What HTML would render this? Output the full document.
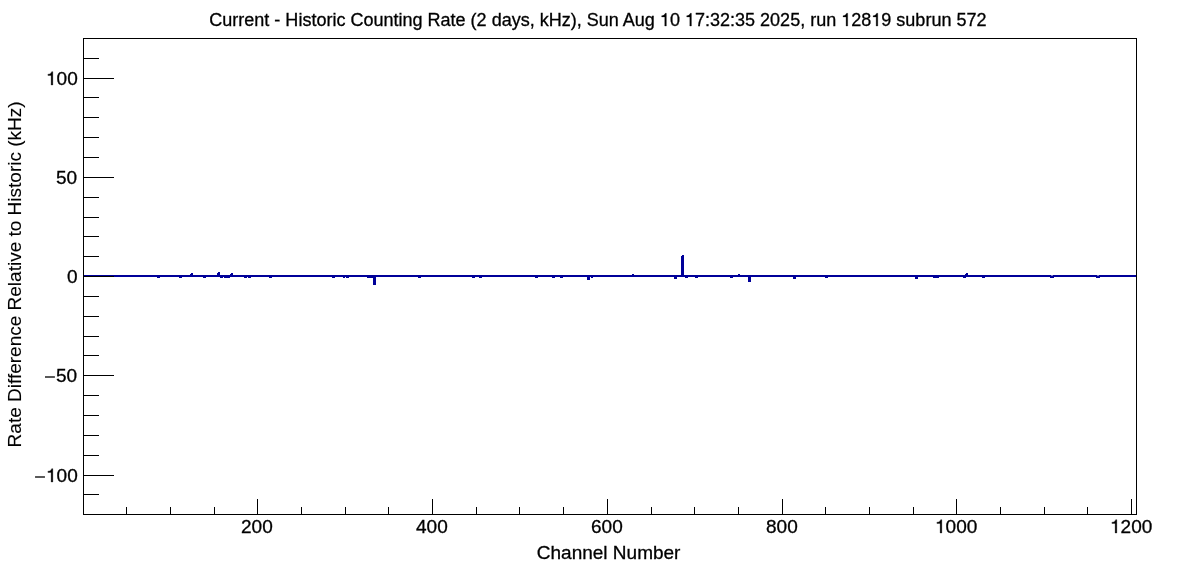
<!DOCTYPE html>
<html><head><meta charset="utf-8"><title>Current - Historic Counting Rate</title>
<style>
html,body{margin:0;padding:0;background:#fff;}
body{width:1196px;height:572px;overflow:hidden;font-family:"Liberation Sans",sans-serif;}
svg{display:block;will-change:transform;transform:translateZ(0);}
text{font-family:"Liberation Sans",sans-serif;fill:#000;stroke:#000;stroke-width:0.3px;}
tspan.h{fill:none;stroke:none;}
</style></head><body>
<svg width="1196" height="572" viewBox="0 0 1196 572">
<rect x="0" y="0" width="1196" height="572" fill="#fff"/>
<g fill="#000099" shape-rendering="crispEdges">
<rect x="83" y="275" width="1054" height="2"/>
<rect x="157.2" y="276" width="3.0" height="2"/>
<rect x="178.8" y="276" width="3.3" height="2"/>
<rect x="203.0" y="276" width="2.9" height="2"/>
<rect x="219.9" y="276" width="3.2" height="2"/>
<rect x="224.1" y="276" width="5.5" height="2"/>
<rect x="244.2" y="276" width="2.5" height="2"/>
<rect x="248.2" y="276" width="2.8" height="2"/>
<rect x="269.0" y="276" width="2.8" height="2"/>
<rect x="331.9" y="276" width="3.0" height="2"/>
<rect x="342.9" y="276" width="2.2" height="2"/>
<rect x="346.1" y="276" width="2.8" height="2"/>
<rect x="367.0" y="276" width="6.0" height="2"/>
<rect x="373.0" y="276" width="3.0" height="9"/>
<rect x="417.9" y="276" width="3.0" height="2"/>
<rect x="472.0" y="276" width="3.0" height="2"/>
<rect x="479.0" y="276" width="3.0" height="2"/>
<rect x="534.8" y="276" width="3.1" height="2"/>
<rect x="552.0" y="276" width="2.8" height="2"/>
<rect x="559.9" y="276" width="3.0" height="2"/>
<rect x="586.9" y="276" width="3.1" height="4"/>
<rect x="591.0" y="276" width="2.0" height="2"/>
<rect x="674.0" y="276" width="3.0" height="3"/>
<rect x="684.9" y="276" width="3.1" height="2"/>
<rect x="694.9" y="276" width="3.2" height="2"/>
<rect x="730.0" y="276" width="3.0" height="2"/>
<rect x="748.0" y="276" width="3.0" height="6"/>
<rect x="792.8" y="276" width="3.2" height="3"/>
<rect x="824.9" y="276" width="3.0" height="2"/>
<rect x="914.8" y="276" width="3.2" height="3"/>
<rect x="933.0" y="276" width="6.0" height="2"/>
<rect x="963.0" y="276" width="3.0" height="2"/>
<rect x="982.0" y="276" width="3.0" height="2"/>
<rect x="1050.0" y="276" width="4.0" height="2"/>
<rect x="1096.0" y="276" width="4.0" height="2"/>
<rect x="190.0" y="274" width="3.0" height="2"/>
<rect x="191.0" y="273" width="2.0" height="1"/>
<rect x="217.1" y="273" width="2.8" height="3"/>
<rect x="218.1" y="272" width="1.8" height="1"/>
<rect x="229.6" y="274" width="3.4" height="2"/>
<rect x="230.6" y="273" width="2.4" height="1"/>
<rect x="631.8" y="274" width="2.3" height="2"/>
<rect x="681.0" y="256" width="3.1" height="20"/>
<rect x="682.0" y="255" width="2.1" height="1"/>
<rect x="738.0" y="274" width="2.2" height="2"/>
<rect x="965.2" y="274" width="3.0" height="2"/>
<rect x="966.2" y="273" width="2.0" height="1"/>
</g>
<rect x="1051.4" y="275" width="1.2" height="1" fill="#fff" opacity="0.85"/>
<rect x="1097.4" y="275" width="1.2" height="1" fill="#fff" opacity="0.85"/>
<g fill="#000" shape-rendering="crispEdges">
<rect x="83" y="38" width="1054" height="1"/>
<rect x="83" y="514" width="1054" height="1"/>
<rect x="83" y="38" width="1" height="477"/>
<rect x="1136" y="38" width="1" height="477"/>
<rect x="83" y="494" width="16" height="1"/>
<rect x="83" y="475" width="31" height="1"/>
<rect x="83" y="455" width="16" height="1"/>
<rect x="83" y="435" width="16" height="1"/>
<rect x="83" y="415" width="16" height="1"/>
<rect x="83" y="395" width="16" height="1"/>
<rect x="83" y="375" width="31" height="1"/>
<rect x="83" y="355" width="16" height="1"/>
<rect x="83" y="336" width="16" height="1"/>
<rect x="83" y="316" width="16" height="1"/>
<rect x="83" y="296" width="16" height="1"/>
<rect x="83" y="276" width="31" height="1"/>
<rect x="83" y="256" width="16" height="1"/>
<rect x="83" y="236" width="16" height="1"/>
<rect x="83" y="217" width="16" height="1"/>
<rect x="83" y="197" width="16" height="1"/>
<rect x="83" y="177" width="31" height="1"/>
<rect x="83" y="157" width="16" height="1"/>
<rect x="83" y="137" width="16" height="1"/>
<rect x="83" y="117" width="16" height="1"/>
<rect x="83" y="97" width="16" height="1"/>
<rect x="83" y="78" width="31" height="1"/>
<rect x="83" y="58" width="16" height="1"/>
<rect x="126" y="507" width="1" height="8"/>
<rect x="170" y="507" width="1" height="8"/>
<rect x="214" y="507" width="1" height="8"/>
<rect x="257" y="499" width="1" height="16"/>
<rect x="301" y="507" width="1" height="8"/>
<rect x="345" y="507" width="1" height="8"/>
<rect x="388" y="507" width="1" height="8"/>
<rect x="432" y="499" width="1" height="16"/>
<rect x="476" y="507" width="1" height="8"/>
<rect x="519" y="507" width="1" height="8"/>
<rect x="563" y="507" width="1" height="8"/>
<rect x="607" y="499" width="1" height="16"/>
<rect x="651" y="507" width="1" height="8"/>
<rect x="694" y="507" width="1" height="8"/>
<rect x="738" y="507" width="1" height="8"/>
<rect x="782" y="499" width="1" height="16"/>
<rect x="825" y="507" width="1" height="8"/>
<rect x="869" y="507" width="1" height="8"/>
<rect x="913" y="507" width="1" height="8"/>
<rect x="956" y="499" width="1" height="16"/>
<rect x="1000" y="507" width="1" height="8"/>
<rect x="1044" y="507" width="1" height="8"/>
<rect x="1087" y="507" width="1" height="8"/>
<rect x="1131" y="499" width="1" height="16"/>
</g>
<g font-size="19">
<text x="241" y="533">200</text>
<text x="416" y="533">400</text>
<text x="591" y="533">600</text>
<text x="766" y="533">800</text>
<text x="935" y="533"><tspan class="h">1</tspan>000</text>
<text x="1110" y="533"><tspan class="h">1</tspan>200</text>
<text x="46" y="482"><tspan class="h">1</tspan>00</text>
<rect x="35.05" y="476.35" width="9.9" height="1.3" fill="#000"/>
<text x="56" y="382">50</text>
<rect x="45.0" y="376.35" width="9.9" height="1.3" fill="#000"/>
<text x="67" y="283">0</text>
<text x="56" y="184">50</text>
<text x="46" y="85"><tspan class="h">1</tspan>00</text>
<text transform="translate(608.6,559)" text-anchor="middle">Channel Number</text>
<text transform="translate(21.3,274.4) rotate(-90)" text-anchor="middle" style="stroke-width:0.1px">Rate Difference Relative to Historic (kHz)</text>
</g>
<text transform="translate(597.9,26)" font-size="18.035" text-anchor="middle">Current - Historic Counting Rate (2 days, kHz), Sun Aug <tspan class="h">1</tspan>0 <tspan class="h">1</tspan>7:32:35 2025, run <tspan class="h">1</tspan>28<tspan class="h">1</tspan>9 subrun 572</text>
<g fill="#000" stroke="#000">
<path transform="translate(935.00,533) scale(0.019000,-0.019000)" stroke-width="15.8" d="M359 0H271V505H101V568C193 572 262 606 300 703H359Z"/>
<path transform="translate(1110.00,533) scale(0.019000,-0.019000)" stroke-width="15.8" d="M359 0H271V505H101V568C193 572 262 606 300 703H359Z"/>
<path transform="translate(46.00,482) scale(0.019000,-0.019000)" stroke-width="15.8" d="M359 0H271V505H101V568C193 572 262 606 300 703H359Z"/>
<path transform="translate(46.00,85) scale(0.019000,-0.019000)" stroke-width="15.8" d="M359 0H271V505H101V568C193 572 262 606 300 703H359Z"/>
<path transform="translate(659.87,26) scale(0.018035,-0.018035)" stroke-width="16.6" d="M359 0H271V505H101V568C193 572 262 606 300 703H359Z"/>
<path transform="translate(684.93,26) scale(0.018035,-0.018035)" stroke-width="16.6" d="M359 0H271V505H101V568C193 572 262 606 300 703H359Z"/>
<path transform="translate(841.21,26) scale(0.018035,-0.018035)" stroke-width="16.6" d="M359 0H271V505H101V568C193 572 262 606 300 703H359Z"/>
<path transform="translate(871.29,26) scale(0.018035,-0.018035)" stroke-width="16.6" d="M359 0H271V505H101V568C193 572 262 606 300 703H359Z"/>
</g>
</svg>
</body></html>
